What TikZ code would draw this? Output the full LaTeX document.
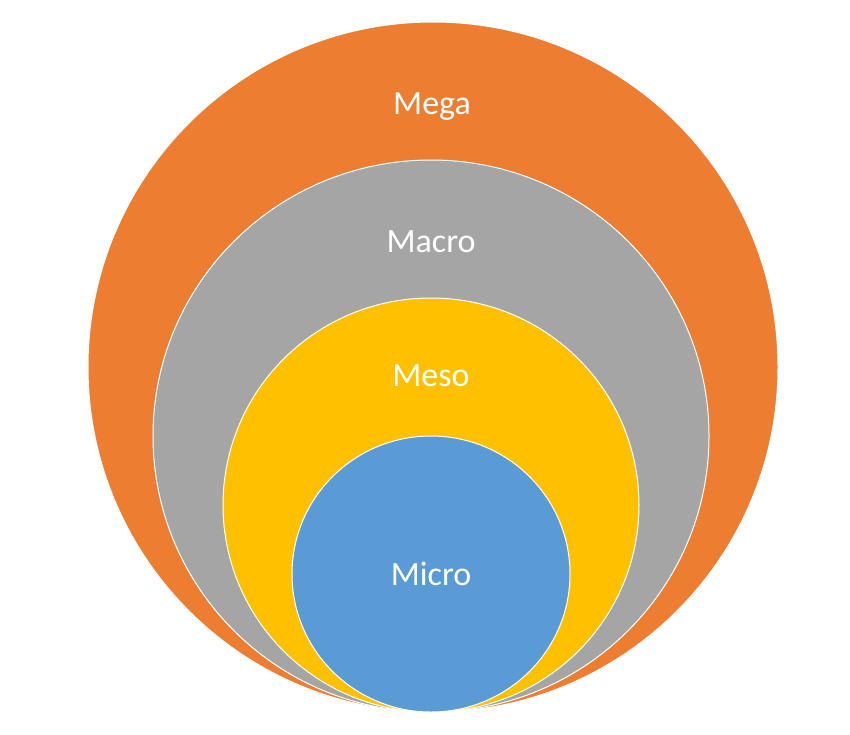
\documentclass[tikz,border=0pt]{standalone}
\usepackage{fontspec}
\setmainfont{Carlito}
\definecolor{cmega}{HTML}{ED7D31}
\definecolor{cmacro}{HTML}{A5A5A5}
\definecolor{cmeso}{HTML}{FFC000}
\definecolor{cmicro}{HTML}{5B9BD5}
\begin{document}
\begin{tikzpicture}[x=1pt,y=-1pt,
  ring/.style={draw=white,line width=1pt},
  lbl/.style={text=white,font=\fontsize{34}{40}\selectfont}]
\useasboundingbox (0,0) rectangle (850,734);
\fill[white] (0,0) rectangle (850,734);
\filldraw[ring,fill=cmega] (433,367) ellipse [x radius=345,y radius=345];
\filldraw[ring,fill=cmacro] (431,436) ellipse [x radius=278,y radius=276];
\filldraw[ring,fill=cmeso] (431,505) ellipse [x radius=208,y radius=207];
\filldraw[ring,fill=cmicro] (431,574) ellipse [x radius=139,y radius=138];
\node[lbl] (mega) at (432,107) {Mega};
\node[lbl] (macro) at (431,242) {Macro};
\node[lbl] (meso) at (431,376) {Meso};
\node[lbl] (micro) at (431,574) {Micro};
\end{tikzpicture}
\end{document}
